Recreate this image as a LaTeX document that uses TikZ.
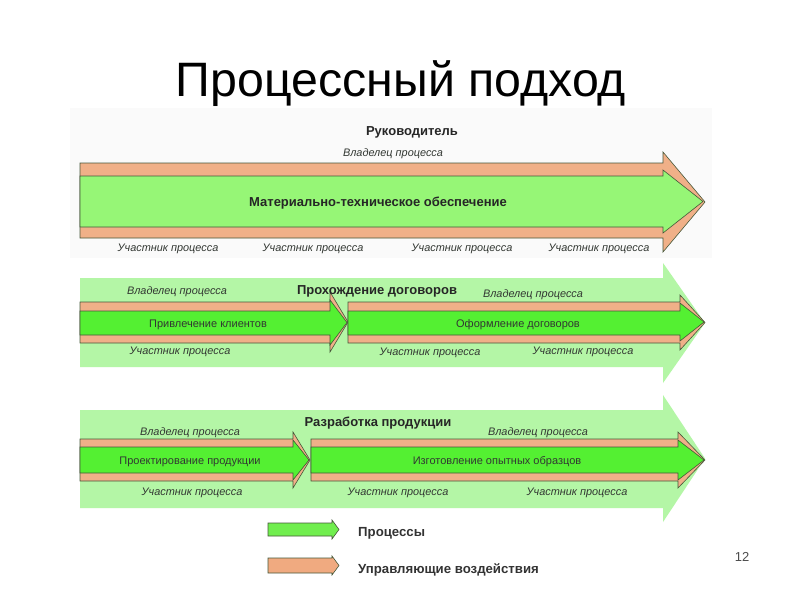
\documentclass[tikz,border=0pt]{standalone}
\usepackage{fontspec}
\setmainfont{Liberation Sans}
\definecolor{orng}{RGB}{240,176,136}
\definecolor{lgrn}{RGB}{150,246,118}
\definecolor{pgrn}{RGB}{84,240,50}
\definecolor{bggrn}{RGB}{180,246,166}
\definecolor{leggrn}{RGB}{112,238,78}
\definecolor{legorng}{RGB}{240,170,128}
\definecolor{edge}{RGB}{70,88,58}
\definecolor{txtg}{RGB}{50,55,50}
\newcommand{\barrow}[8]{%
  \path[#1] (#2,#5) -- (#3,#5) -- (#3,#7) -- (#4,{(#7+#8)/2}) -- (#3,#8) -- (#3,#6) -- (#2,#6) -- cycle;}
\tikzset{
  orarr/.style={fill=orng,draw=edge,line width=0.6pt,line join=miter},
  grarr/.style={fill=lgrn,draw=edge,line width=0.6pt,line join=miter},
  prarr/.style={fill=pgrn,draw=edge,line width=0.6pt,line join=miter},
  bgarr/.style={fill=bggrn},
  lbl/.style={font=\fontsize{10.9}{12}\selectfont\itshape,text=txtg,inner sep=0pt,anchor=mid,yshift=-1.5pt},
  bld/.style={font=\fontsize{13}{15}\selectfont\bfseries,text=black!85,inner sep=0pt,anchor=mid,yshift=-1.5pt},
  proc/.style={font=\fontsize{11}{12}\selectfont,text=txtg,inner sep=0pt,anchor=mid,yshift=-1.5pt},
  legtxt/.style={font=\fontsize{13.2}{15}\selectfont\bfseries,text=black!80,inner sep=0pt,anchor=west,yshift=-1pt},
}
\begin{document}
\begin{tikzpicture}[x=1pt,y=-1pt]
\useasboundingbox (0,0) rectangle (800,600);
\fill[white] (0,0) rectangle (800,600);
% title
\node[font=\fontsize{48.3}{56}\selectfont,anchor=base,inner sep=0pt] (title) at (401,96) {Процессный подход};
\node[font=\fontsize{13}{15}\selectfont,text=black!70,anchor=mid,inner sep=0pt] (pnum) at (742,559) {12};

% section 1
\fill[black!2] (70,108) rectangle (712,258);
\barrow{orarr}{80}{663}{705}{163}{238}{152}{252}
\barrow{grarr}{80}{663}{703}{176}{227}{170}{233}
\node[bld] (s1t) at (412,131) {Руководитель};
\node[lbl] (s1o) at (393,152) {Владелец процесса};
\node[bld] (s1p) at (378,202) {Материально-техническое обеспечение};
\node[lbl] (s1u1) at (168,247) {Участник процесса};
\node[lbl] (s1u2) at (313,247) {Участник процесса};
\node[lbl] (s1u3) at (462,247) {Участник процесса};
\node[lbl] (s1u4) at (599,247) {Участник процесса};

% section 2
\barrow{bgarr}{80}{663}{705}{278}{367}{263}{383}
\barrow{orarr}{80}{330}{348}{302}{343}{292}{352}
\barrow{prarr}{80}{330}{347}{311}{335}{300}{345}
\barrow{orarr}{348}{680}{705}{302}{343}{295}{350}
\barrow{prarr}{348}{680}{704}{311}{335}{303}{341}
\node[bld] (s2t) at (377,290) {Прохождение договоров};
\node[lbl] (s2o1) at (177,290) {Владелец процесса};
\node[lbl] (s2o2) at (533,293) {Владелец процесса};
\node[proc] (s2p1) at (208,323) {Привлечение клиентов};
\node[proc] (s2p2) at (518,323) {Оформление договоров};
\node[lbl] (s2u1) at (180,350) {Участник процесса};
\node[lbl] (s2u2) at (430,351) {Участник процесса};
\node[lbl] (s2u3) at (583,350) {Участник процесса};

% section 3
\barrow{bgarr}{80}{663}{705}{410}{508}{395}{522}
\barrow{orarr}{80}{293}{310}{439}{481}{432}{488}
\barrow{prarr}{80}{293}{309}{447}{473}{440}{480}
\barrow{orarr}{311}{678}{705}{439}{481}{432}{488}
\barrow{prarr}{311}{678}{704}{447}{473}{440}{480}
\node[bld] (s3t) at (378,422) {Разработка продукции};
\node[lbl] (s3o1) at (190,431) {Владелец процесса};
\node[lbl] (s3o2) at (538,431) {Владелец процесса};
\node[proc] (s3p1) at (190,460) {Проектирование продукции};
\node[proc] (s3p2) at (497,460) {Изготовление опытных образцов};
\node[lbl] (s3u1) at (192,491) {Участник процесса};
\node[lbl] (s3u2) at (398,491) {Участник процесса};
\node[lbl] (s3u3) at (577,491) {Участник процесса};

% legend
\barrow{fill=leggrn,draw=edge,line width=0.6pt}{268}{332}{339}{523}{536}{520}{539}
\barrow{fill=legorng,draw=edge,line width=0.6pt}{268}{332}{339}{558}{573}{556}{575}
\node[legtxt] (lg1) at (358,532) {Процессы};
\node[legtxt] (lg2) at (358,569) {Управляющие воздействия};
\end{tikzpicture}
\end{document}
